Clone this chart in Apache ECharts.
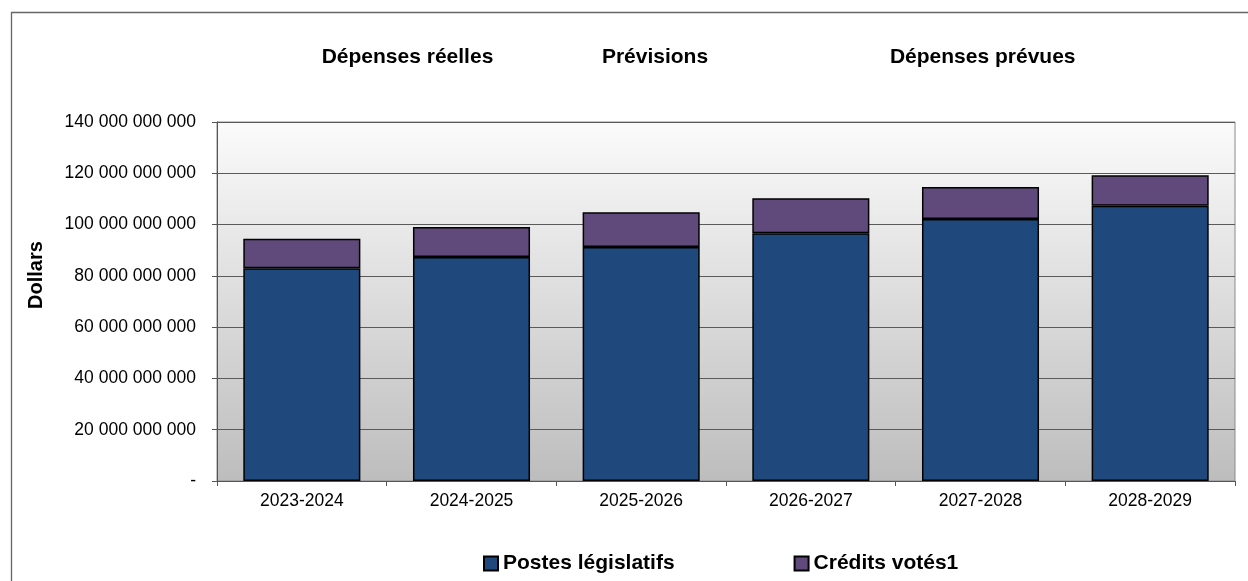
<!DOCTYPE html>
<html>
<head>
<meta charset="utf-8">
<script src="https://cdn.jsdelivr.net/npm/echarts@6/dist/echarts.min.js"></script>
<style>
html,body{margin:0;padding:0;background:#fff;}
#chart{width:1248px;height:581px;}
</style>
</head>
<body>
<div id="chart"></div>
<script>
const categories = ['2023-2024', '2024-2025', '2025-2026', '2026-2027', '2027-2028', '2028-2029'];
const postesLegislatifs = [83000000000, 87400000000, 91300000000, 96600000000, 102200000000, 107300000000];
const creditsVotes = [11500000000, 11700000000, 13500000000, 13700000000, 12500000000, 11900000000];
const seriesNames = ['Postes législatifs', 'Crédits votés1'];
const headers = ['Dépenses réelles', 'Prévisions', 'Dépenses prévues'];
const yAxisTitle = 'Dollars';

const FONT = '"Liberation Sans", Arial, sans-serif';

function fmt(v) {
  if (v === 0) return '-';
  return String(v).replace(/\B(?=(\d{3})+(?!\d))/g, ' ');
}

const chart = echarts.init(document.getElementById('chart'));
const headerPos = [407.5, 655, 982.7];

chart.setOption({
  animation: false,
  backgroundColor: '#ffffff',
  textStyle: { fontFamily: FONT },
  grid: {
    left: 217, top: 122, right: 13, bottom: 100,
    show: true,
    borderColor: '#8a8a8a',
    borderWidth: 1,
    backgroundColor: {
      type: 'linear', x: 0, y: 0, x2: 0, y2: 1,
      colorStops: [{ offset: 0, color: '#fbfbfb' }, { offset: 1, color: '#bdbdbd' }]
    }
  },
  legend: {
    left: 478,
    top: 548,
    icon: 'rect',
    itemWidth: 14,
    itemHeight: 14,
    itemGap: 119,
    textStyle: { fontFamily: FONT, fontSize: 21, fontWeight: 'bold', color: '#000' },
    data: seriesNames
  },
  xAxis: {
    type: 'category',
    data: categories,
    axisLine: { show: true, lineStyle: { color: '#555', width: 1 } },
    axisTick: { show: true, length: 5, alignWithLabel: false, lineStyle: { color: '#555' } },
    axisLabel: { fontFamily: FONT, fontSize: 17.5, color: '#000', margin: 11 },
    splitLine: { show: false }
  },
  yAxis: {
    type: 'value',
    min: 0, max: 140000000000, interval: 20000000000,
    axisLine: { show: true, lineStyle: { color: '#555', width: 1 } },
    axisTick: { show: true, length: 5, lineStyle: { color: '#555' } },
    axisLabel: { fontFamily: FONT, fontSize: 17.5, color: '#000', margin: 21, formatter: fmt },
    splitLine: { show: true, lineStyle: { color: '#5a5a5a', width: 1 } }
  },
  graphic: [
    { type: 'rect', silent: true, shape: { x: 11.5, y: 12.5, width: 1400, height: 700 },
      style: { fill: 'none', stroke: '#666', lineWidth: 1.3 } },
    { type: 'text', x: 36, y: 275, rotation: Math.PI / 2,
      style: { text: yAxisTitle, font: 'bold 20px ' + FONT, fill: '#000', textAlign: 'center', textVerticalAlign: 'middle' } },
  ].concat(headers.map((h, i) => ({
    type: 'text', x: headerPos[i], y: 57,
    style: { text: h, font: 'bold 21px ' + FONT, fill: '#000', textAlign: 'center', textVerticalAlign: 'middle' }
  }))),
  series: [
    {
      name: seriesNames[0], type: 'bar', stack: 'total', data: postesLegislatifs,
      barWidth: '69%',
      itemStyle: { color: '#1F497D', borderColor: '#000', borderWidth: 1.5 }
    },
    {
      name: seriesNames[1], type: 'bar', stack: 'total', data: creditsVotes,
      barWidth: '69%',
      itemStyle: { color: '#604A7B', borderColor: '#000', borderWidth: 1.5 }
    }
  ]
});
</script>
</body>
</html>
